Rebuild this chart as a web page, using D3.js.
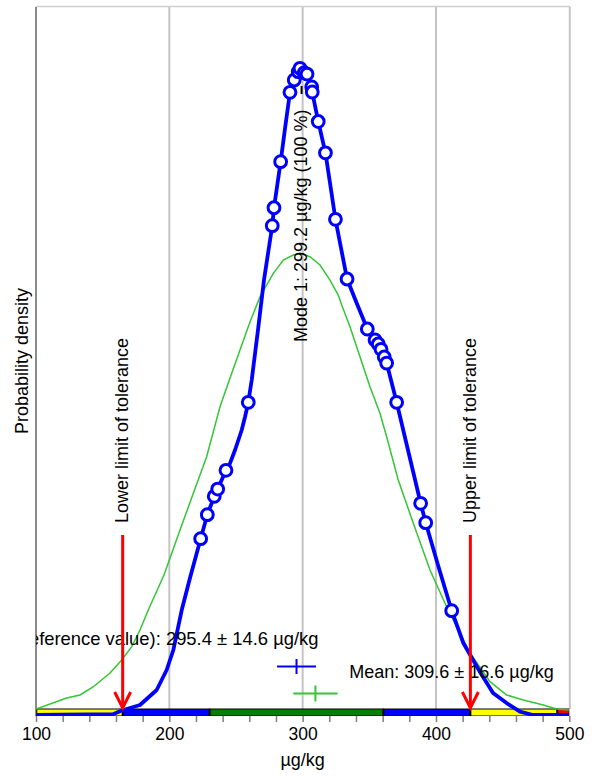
<!DOCTYPE html>
<html>
<head>
<meta charset="utf-8">
<script src="https://cdn.jsdelivr.net/npm/d3@7"></script>
<style>
  html, body { margin: 0; padding: 0; background: #fff; }
  svg { display: block; font-family: "Liberation Sans", Arial, sans-serif; }
</style>
</head>
<body>
<svg id="chart" width="598" height="776"></svg>
<script>
// Kernel density of the laboratory results (density in 10^-3 per µg/kg)
const kdeX = [100, 157.8, 164.3, 178.0, 190.5, 198.0, 203.0, 206.7, 209.3, 215.5, 223.5, 228.5, 233.7, 236.3, 242.5,
  245.5, 249.3, 254.3, 256.8, 259.2, 261.8, 266.5, 271.0, 277.2, 278.5, 283.5, 286.8, 290.5, 293.7, 296.7, 298.0,
  299.2, 301.2, 303.3, 306.8, 307.2, 311.7, 317.1, 324.6, 333.3, 340.8, 348.5, 354.3, 356.7, 358.8, 361.2, 363.0,
  370.5, 379.0, 388.5, 392.3, 401.5, 411.8, 420.5, 433.0, 442.8, 453.0, 463.0, 472.8, 500];
const kdeY = [0, 0.01, 0.06, 0.133, 0.332, 0.598, 0.864, 1.174, 1.395, 1.821, 2.343, 2.662, 2.907, 3.003, 3.252,
  3.345, 3.522, 3.788, 3.964, 4.156, 4.452, 5.117, 5.781, 6.503, 6.742, 7.354, 7.80, 8.276, 8.440, 8.550, 8.595,
  8.62, 8.537, 8.519, 8.347, 8.280, 7.888, 7.472, 6.588, 5.795, 5.462, 5.130, 4.984, 4.931, 4.860, 4.758, 4.678,
  4.156, 3.522, 2.814, 2.556, 1.994, 1.386, 0.957, 0.571, 0.292, 0.159, 0.044, 0, 0];

// Individual results, placed on the density curve
const resultX = [223.5, 228.5, 233.7, 236.3, 242.5, 259.2, 277.2, 278.5, 283.5, 290.5, 293.7, 296.7, 298.0, 301.2,
  303.3, 306.8, 307.2, 311.7, 317.1, 324.6, 333.3, 348.5, 354.3, 356.7, 358.8, 361.2, 363.0, 370.5, 388.5, 392.3, 411.8];
const resultY = [2.343, 2.662, 2.907, 3.003, 3.252, 4.156, 6.503, 6.742, 7.354, 8.276, 8.440, 8.550, 8.595, 8.537,
  8.519, 8.347, 8.280, 7.888, 7.472, 6.588, 5.795, 5.130, 4.984, 4.931, 4.860, 4.758, 4.678, 4.156, 2.814, 2.556, 1.386];

// Normal density for comparison
const normX = [100, 123.0, 133.0, 142.8, 155.5, 164.3, 171.8, 178.0, 184.2, 196.0, 208.0, 218.0, 228.0, 238.0, 245.0,
  253.0, 260.5, 268.0, 278.0, 285.5, 293.0, 298.0, 305.5, 313.0, 320.5, 326.7, 329.3, 335.5, 343.0, 350.5, 358.0,
  363.0, 371.7, 383.0, 395.5, 408.0, 415.5, 425.5, 440.5, 453.0, 465.5, 480.5, 490.5, 500];
const normY = [0.080, 0.226, 0.266, 0.372, 0.558, 0.731, 0.908, 1.130, 1.395, 1.861, 2.459, 2.946, 3.433, 4.097, 4.452,
  4.851, 5.223, 5.559, 5.870, 6.047, 6.113, 6.136, 6.091, 5.981, 5.781, 5.582, 5.449, 5.161, 4.762, 4.363, 4.010,
  3.699, 3.123, 2.548, 1.927, 1.439, 1.174, 0.824, 0.443, 0.266, 0.199, 0.133, 0.080, 0.066];

// Evaluation bands along the axis
const bandEdges = [100.6, 165.0, 230.2, 360.6, 425.8, 491.0, 500];
const bandColors = ["#ffff00", "#0000ff", "#008000", "#0000ff", "#ffff00", "#ff0000"];

const tolerance = [165.0, 425.8];
const toleranceLabels = ["Lower limit of tolerance", "Upper limit of tolerance"];

const assignedValue = 295.4, assignedU = 14.6;
const meanValue = 309.6, meanU = 16.6;
const modeValue = 299.2;

const majorTicks = [100, 200, 300, 400, 500];
const minorTicks = d3.range(100, 501, 20);

const svg = d3.select("#chart");
const plotLeft = 36, plotRight = 569.3, plotTop = 7, plotBottom = 716;

const x = d3.scaleLinear().domain([100, 500]).range([plotLeft, plotRight]);
const y = d3.scaleLinear().domain([0, 9.41]).range([715, plotTop]);

svg.append("rect").attr("width", 598).attr("height", 776).attr("fill", "#fff");

svg.append("defs").append("clipPath").attr("id", "plot")
  .append("rect").attr("x", plotLeft).attr("y", plotTop)
  .attr("width", plotRight - plotLeft).attr("height", plotBottom - plotTop);

// Gridlines and frame
svg.append("g").selectAll("line").data(majorTicks.slice(1, 4)).join("line")
  .attr("x1", d => x(d)).attr("x2", d => x(d)).attr("y1", plotTop).attr("y2", 709)
  .attr("stroke", "#c4c4c4").attr("stroke-width", 2);
svg.append("line").attr("x1", plotLeft).attr("x2", plotRight + 1).attr("y1", plotTop - 0.5).attr("y2", plotTop - 0.5)
  .attr("stroke", "#cfcfcf").attr("stroke-width", 1.5);
svg.append("line").attr("x1", plotRight + 0.5).attr("x2", plotRight + 0.5).attr("y1", plotTop).attr("y2", 709)
  .attr("stroke", "#c4c4c4").attr("stroke-width", 2);
svg.append("line").attr("x1", plotLeft).attr("x2", plotLeft).attr("y1", plotTop).attr("y2", plotBottom)
  .attr("stroke", "#8c8c8c").attr("stroke-width", 2);

// X axis
const axis = svg.append("g").attr("transform", `translate(0,${plotBottom})`)
  .call(d3.axisBottom(x).tickValues(minorTicks).tickSize(6).tickPadding(6)
    .tickFormat(d => majorTicks.includes(d) ? d : ""));
axis.select(".domain").remove();
axis.selectAll(".tick line").attr("stroke", "#808080").attr("stroke-width", 1.5);
axis.selectAll(".tick text").attr("fill", "#000").attr("font-size", 17.5)
  .attr("font-family", "Liberation Sans, Arial, sans-serif").attr("dy", "0.71em");

// Bands
const bands = d3.range(bandColors.length).map(i => ({ a: bandEdges[i], b: bandEdges[i + 1], c: bandColors[i] }));
const bandG = svg.append("g").attr("clip-path", "url(#plot)");
bandG.selectAll("rect").data(bands).join("rect")
  .attr("x", d => x(d.a)).attr("width", d => x(d.b) - x(d.a))
  .attr("y", 709).attr("height", 7).attr("fill", d => d.c)
  .attr("stroke", "#000").attr("stroke-width", 1);
bandG.selectAll("line.div").data(bandEdges.slice(1, -1)).join("line").attr("class", "div")
  .attr("x1", d => x(d)).attr("x2", d => x(d)).attr("y1", 709).attr("y2", 716)
  .attr("stroke", "#000").attr("stroke-width", 2);

// Curves
const line = d3.line().x(d => x(d[0])).y(d => y(d[1]));
const plot = svg.append("g").attr("clip-path", "url(#plot)");
plot.append("path").datum(d3.zip(normX, normY)).attr("d", line)
  .attr("fill", "none").attr("stroke", "#35c635").attr("stroke-width", 1.5);
plot.append("path").datum(d3.zip(kdeX, kdeY)).attr("d", line)
  .attr("fill", "none").attr("stroke", "#0000ff").attr("stroke-width", 3.8).attr("stroke-linejoin", "round");
plot.selectAll("circle").data(d3.zip(resultX, resultY)).join("circle")
  .attr("cx", d => x(d[0])).attr("cy", d => y(d[1])).attr("r", 5.9)
  .attr("fill", "#fff").attr("stroke", "#0000ff").attr("stroke-width", 3);

// Mode marker and label
svg.append("line").attr("x1", x(modeValue)).attr("x2", x(modeValue)).attr("y1", 86).attr("y2", 94)
  .attr("stroke", "#000").attr("stroke-width", 2);
svg.append("text").attr("transform", `translate(${x(modeValue) + 5},342) rotate(-90)`)
  .attr("font-size", 18).text(`Mode 1: ${modeValue} µg/kg (100 %)`);

// Value annotations
plot.append("text").attr("x", 318.5).attr("y", 645).attr("text-anchor", "end").attr("font-size", 18.4)
  .text(`Assigned value (reference value): ${assignedValue} ± ${assignedU} µg/kg`);
svg.append("text").attr("x", 349.3).attr("y", 677.5).attr("font-size", 18)
  .text(`Mean: ${meanValue} ± ${meanU} µg/kg`);

// Uncertainty crosses
function cross(v, u, cy, color, h) {
  const g = svg.append("g").attr("stroke", color).attr("stroke-width", 2);
  g.append("line").attr("x1", x(v - u)).attr("x2", x(v + u)).attr("y1", cy).attr("y2", cy);
  g.append("line").attr("x1", x(v)).attr("x2", x(v)).attr("y1", cy - h).attr("y2", cy + h);
}
cross(assignedValue, assignedU, 666.5, "#0000ff", 7.5);
cross(meanValue, meanU, 693.5, "#35c635", 8);

// Tolerance limits
const tolG = svg.append("g");
tolerance.forEach((v, i) => {
  const xv = x(v);
  tolG.append("text").attr("transform", `translate(${xv + 5.5},523) rotate(-90)`)
    .attr("font-size", 18).text(toleranceLabels[i]);
  tolG.append("line").attr("x1", xv).attr("x2", xv).attr("y1", 535).attr("y2", 707)
    .attr("stroke", "#ff0000").attr("stroke-width", 3);
  tolG.append("path").attr("d", `M${xv - 8},692L${xv},708L${xv + 8},692`)
    .attr("fill", "none").attr("stroke", "#ff0000").attr("stroke-width", 3);
});

// Axis titles
svg.append("text").attr("transform", "translate(28,361) rotate(-90)").attr("text-anchor", "middle")
  .attr("font-size", 18).text("Probability density");
svg.append("text").attr("x", x(300)).attr("y", 766).attr("text-anchor", "middle")
  .attr("font-size", 18).text("µg/kg");
</script>
</body>
</html>
